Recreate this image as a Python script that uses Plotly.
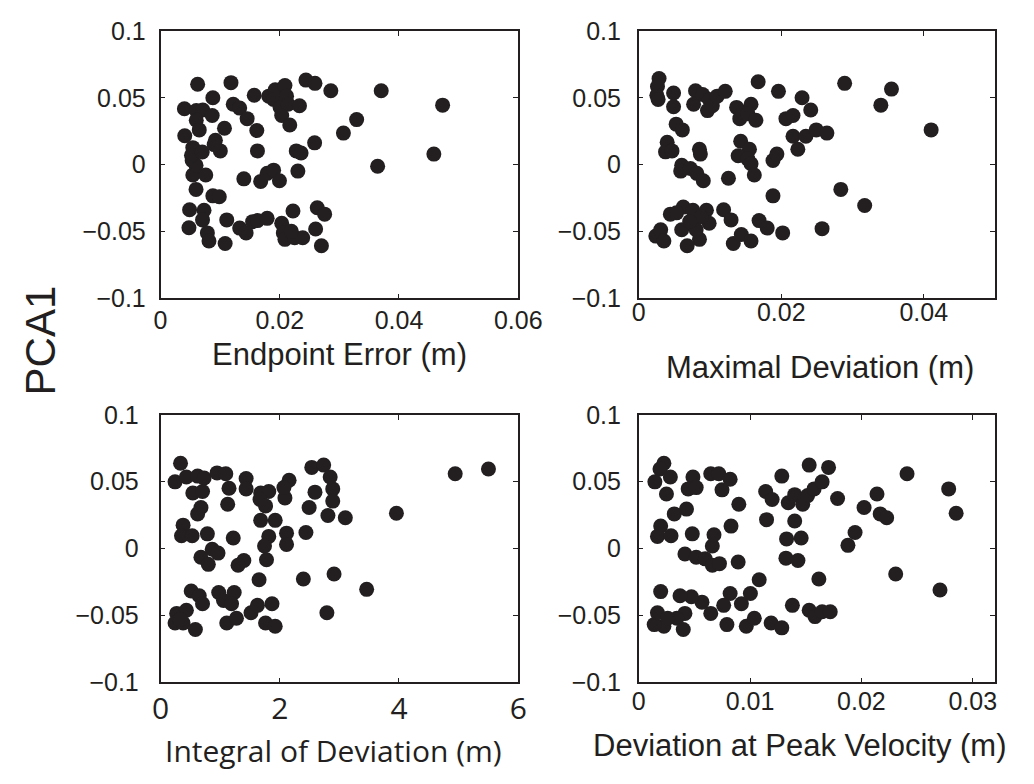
import plotly.graph_objects as go

W, H = 1034, 784

# ---------------- data ----------------
endpoint_x = [0.00623, 0.01182, 0.00878, 0.01572, 0.00401, 0.0060, 0.0071, 0.00867, 0.0060, 0.0065,
              0.00407, 0.01073, 0.0122, 0.01328, 0.01453, 0.01615, 0.00921, 0.01003, 0.00542, 0.00531,
              0.00542, 0.00759, 0.00596, 0.00878, 0.00986, 0.00488, 0.0073, 0.00705, 0.00477, 0.00786,
              0.00813, 0.01084, 0.01111, 0.01328, 0.01436, 0.01545, 0.01626, 0.01789, 0.02033, 0.0206,
              0.02087, 0.02222, 0.0225, 0.02385, 0.02195, 0.02629, 0.02753, 0.02602, 0.02699, 0.01626,
              0.01398, 0.0168, 0.01789, 0.01897, 0.01995, 0.02304, 0.02277, 0.02358, 0.02585, 0.01816,
              0.01924, 0.02087, 0.01897, 0.02114, 0.02006, 0.0214, 0.02331, 0.02033, 0.02168, 0.02439,
              0.02591, 0.02857, 0.03068, 0.0329, 0.03702, 0.03642, 0.04732, 0.04585, 0.00596, 0.0052,
              0.0070, 0.0090]
endpoint_y = [0.0601, 0.0613, 0.0500, 0.0519, 0.0418, 0.0404, 0.0409, 0.0368, 0.0332, 0.0260,
              0.0216, 0.0272, 0.0452, 0.0423, 0.0344, 0.0255, 0.0183, 0.0103, 0.0127, 0.0031,
              -0.0077, -0.0077, -0.0185, -0.0233, -0.0240, -0.0337, -0.0341, -0.0413, -0.0471, -0.0510,
              -0.0570, -0.0589, -0.0413, -0.0474, -0.0510, -0.0426, -0.0418, -0.0401, -0.0438, -0.0510,
              -0.0558, -0.0346, -0.0546, -0.0546, -0.0498, -0.0322, -0.0370, -0.0481, -0.0606, 0.0103,
              -0.0106, -0.0125, -0.0065, -0.0041, -0.0120, -0.0048, 0.0103, 0.0087, 0.0163, 0.0512,
              0.0560, 0.0591, 0.0488, 0.0512, 0.0428, 0.0452, 0.0440, 0.0368, 0.0296, 0.0632,
              0.0608, 0.0553, 0.0236, 0.0337, 0.0553, -0.0012, 0.0445, 0.0079, -0.0005, 0.0070,
              0.0095, 0.0150]

maxdev_x = [0.00285, 0.00263, 0.00254, 0.00272, 0.00489, 0.00489, 0.00525, 0.00612, 0.00399, 0.00376,
            0.00467, 0.00603, 0.00589, 0.00725, 0.00815, 0.00906, 0.00852, 0.00865, 0.00797, 0.0077,
            0.00897, 0.00988, 0.00965, 0.01033, 0.01101, 0.01214, 0.01259, 0.01373, 0.01418, 0.01463,
            0.01576, 0.01531, 0.01644, 0.01431, 0.01554, 0.01395, 0.01531, 0.01576, 0.01622, 0.01676,
            0.01961, 0.01884, 0.01939, 0.01884, 0.02066, 0.02165, 0.02292, 0.02414, 0.02165, 0.02233,
            0.02346, 0.02491, 0.02641, 0.0289, 0.02836, 0.03171, 0.03398, 0.03547, 0.04104, 0.02573,
            0.0024, 0.00308, 0.00353, 0.00603, 0.00444, 0.00625, 0.0076, 0.0095, 0.00988, 0.00852,
            0.0068, 0.00806, 0.01191, 0.01296, 0.01327, 0.0144, 0.01576, 0.01689, 0.01803, 0.0202,
            0.00874, 0.00715, 0.0053]
maxdev_y = [0.0644, 0.0584, 0.0519, 0.0488, 0.0536, 0.0433, 0.0303, 0.0260, 0.0168, 0.0096,
            0.0103, -0.0005, -0.0048, -0.0029, -0.0065, -0.0120, 0.0115, 0.0079, 0.0553, 0.0452,
            0.0524, 0.0488, 0.0404, 0.0440, 0.0512, 0.0548, -0.0101, 0.0428, 0.0344, 0.0392,
            0.0452, 0.0380, 0.0332, 0.0175, 0.0115, 0.0067, 0.0043, 0.0007, -0.0077, 0.0620,
            0.0548, 0.0031, 0.0079, -0.0233, 0.0344, 0.0368, 0.0500, 0.0409, 0.0212, 0.0115,
            0.0212, 0.0260, 0.0236, 0.0608, -0.0185, -0.0305, 0.0445, 0.0565, 0.0260, -0.0478,
            -0.0534, -0.0486, -0.0570, -0.0486, -0.0370, -0.0317, -0.0341, -0.0341, -0.0438, -0.0558,
            -0.0606, -0.0486, -0.0337, -0.0413, -0.0589, -0.0522, -0.0570, -0.0418, -0.0474, -0.0510,
            -0.0389, -0.0425, -0.0360]

integral_x = [0.336, 0.244, 0.434, 0.623, 0.732, 0.542, 0.705, 0.678, 0.623, 0.949,
              1.095, 1.149, 1.127, 1.436, 1.436, 1.680, 1.816, 1.669, 1.762, 2.087,
              2.157, 2.070, 2.537, 2.737, 2.846, 2.889, 2.889, 2.808, 2.591, 2.493,
              3.100, 3.957, 4.943, 5.501, 0.379, 0.352, 0.531, 0.786, 0.867, 0.965,
              0.678, 0.802, 1.220, 1.398, 1.301, 1.680, 1.924, 1.816, 1.745, 1.778,
              2.114, 2.114, 2.439, 1.653, 2.396, 2.911, 3.458, 2.791, 0.515, 0.650,
              0.705, 0.271, 0.244, 0.379, 0.585, 0.976, 1.057, 1.236, 1.192, 1.111,
              1.274, 1.518, 1.626, 1.870, 1.762, 1.924, 0.434, 0.330]
integral_y = [0.0638, 0.0499, 0.0535, 0.0542, 0.0528, 0.0415, 0.0427, 0.0307, 0.0259, 0.0566,
              0.0559, 0.0451, 0.0331, 0.0523, 0.0446, 0.0415, 0.0427, 0.0367, 0.0319, 0.0379,
              0.0511, 0.0456, 0.0607, 0.0624, 0.0535, 0.0446, 0.0355, 0.0247, 0.0422, 0.0307,
              0.0230, 0.0264, 0.0559, 0.0595, 0.0175, 0.0096, 0.0096, 0.0110, -0.0005, -0.0034,
              -0.0065, -0.0118, 0.0079, -0.0089, -0.0125, 0.0211, 0.0211, 0.0091, 0.0019, -0.0084,
              0.0115, 0.0031, 0.0120, -0.0233, -0.0228, -0.0190, -0.0305, -0.0480, -0.0317, -0.0353,
              -0.0413, -0.0485, -0.0557, -0.0557, -0.0605, -0.0329, -0.0389, -0.0329, -0.0413, -0.0557,
              -0.0521, -0.0480, -0.0425, -0.0413, -0.0557, -0.0581, -0.0461, -0.0530]

peakvel_x = [0.00226, 0.00191, 0.00145, 0.00284, 0.00249, 0.00487, 0.00444, 0.00516, 0.00429, 0.00319,
             0.00647, 0.00719, 0.00821, 0.00748, 0.00899, 0.00829, 0.00197, 0.00168, 0.0029, 0.00481,
             0.00415, 0.00516, 0.00597, 0.00661, 0.00676, 0.00661, 0.00725, 0.00893, 0.0114, 0.01198,
             0.01148, 0.01285, 0.01343, 0.01401, 0.01473, 0.01517, 0.01575, 0.01647, 0.01531, 0.01705,
             0.01786, 0.01401, 0.01328, 0.01459, 0.01322, 0.0143, 0.01082, 0.01618, 0.0138, 0.01531,
             0.01583, 0.01647, 0.0172, 0.01189, 0.01285, 0.00966, 0.01038, 0.00922, 0.01003, 0.00821,
             0.00763, 0.00792, 0.00647, 0.00568, 0.00473, 0.00371, 0.00415, 0.00342, 0.004, 0.00226,
             0.00139, 0.00168, 0.00197, 0.01943, 0.01879, 0.02024, 0.0214, 0.02169, 0.02227, 0.0241,
             0.02308, 0.02784, 0.02851, 0.02706, 0.0026]
peakvel_y = [0.0638, 0.0595, 0.0499, 0.0535, 0.0408, 0.0535, 0.0446, 0.0456, 0.0295, 0.0259,
             0.0559, 0.0559, 0.0518, 0.0439, 0.0331, 0.0168, 0.0168, 0.0091, 0.0096, 0.0110,
             -0.0041, -0.0065, -0.0077, 0.0019, 0.0103, -0.0125, -0.0113, -0.0101, 0.0427, 0.0367,
             0.0216, 0.0542, 0.0343, 0.0403, 0.0331, 0.0396, 0.0446, 0.0499, 0.0624, 0.0607,
             0.0374, 0.0206, 0.0072, 0.0079, -0.0072, -0.0089, -0.0233, -0.0228, -0.0425, -0.0461,
             -0.0509, -0.0473, -0.0473, -0.0557, -0.0593, -0.0581, -0.0521, -0.0413, -0.0336, -0.0336,
             -0.0425, -0.0569, -0.0485, -0.0401, -0.0360, -0.0353, -0.0485, -0.0521, -0.0605, -0.0581,
             -0.0569, -0.0480, -0.0322, 0.0120, 0.0024, 0.0307, 0.0408, 0.0259, 0.0230, 0.0559,
             -0.0190, 0.0446, 0.0264, -0.0310, -0.0521]

y_ticks = [-0.1, -0.05, 0, 0.05, 0.1]
y_ticktext = ["\u22120.1", "\u22120.05", "0", "0.05", "0.1"]

panels = [
    dict(x=endpoint_x, y=endpoint_y, xr=[0, 0.06], xt=[0, 0.02, 0.04, 0.06], xtt=["0", "0.02", "0.04", "0.06"],
         title="Endpoint Error (m)"),
    dict(x=maxdev_x, y=maxdev_y, xr=[0, 0.05], xt=[0, 0.02, 0.04], xtt=["0", "0.02", "0.04"],
         title="Maximal Deviation (m)"),
    dict(x=integral_x, y=integral_y, xr=[0, 6], xt=[0, 2, 4, 6], xtt=["0", "2", "4", "6"],
         title="Integral of Deviation (m)"),
    dict(x=peakvel_x, y=peakvel_y, xr=[0, 0.032], xt=[0, 0.01, 0.02, 0.03], xtt=["0", "0.01", "0.02", "0.03"],
         title="Deviation at Peak Velocity (m)"),
]

# ---------------- layout geometry (pixels) ----------------
col_px = [(156.5, 526.0), (650.5, 1018.5)]
row_px = [(17.5, 295.0), (415.7, 693.0)]

INK = "#231f20"
FONT = "Liberation Sans, Arial, Helvetica, sans-serif"
ALT = "Open Sans, sans-serif"

fig = go.Figure()
layout = dict(
    width=W, height=H, margin=dict(l=0, r=0, t=0, b=0),
    paper_bgcolor="white", plot_bgcolor="white", showlegend=False,
    font=dict(family=FONT, color=INK, size=25),
)

xstand = [-1, -9, -1, -4]
ystand = [8, 11, 15, 11]
for i, p in enumerate(panels):
    r, c = divmod(i, 2)
    n = "" if i == 0 else str(i + 1)
    xa, ya = "x" + n, "y" + n
    fig.add_trace(go.Scatter(
        x=p["x"], y=p["y"], mode="markers", xaxis=xa, yaxis=ya,
        marker=dict(size=15, color=INK, line=dict(width=0)),
        hoverinfo="skip"))
    x0, x1 = col_px[c]
    yt, yb = row_px[r]
    tickfont = dict(family=FONT, size=25, color=INK)
    xtickfont = dict(family=ALT, size=30, color=INK) if i == 2 else tickfont
    layout["xaxis" + n] = dict(
        domain=[x0 / W, x1 / W], anchor=ya, range=p["xr"], tickvals=p["xt"], ticktext=p["xtt"],
        showline=True, linecolor=INK, linewidth=1.5, mirror="ticks", ticks="inside", ticklen=5,
        tickcolor=INK, tickwidth=1, showgrid=False, zeroline=False, tickfont=xtickfont,
        ticklabelstandoff=xstand[i], fixedrange=True)
    layout["yaxis" + n] = dict(
        domain=[1 - yb / H, 1 - yt / H], anchor=xa, range=[-0.1, 0.1], tickvals=y_ticks, ticktext=y_ticktext,
        showline=True, linecolor=INK, linewidth=1.5, mirror="ticks", ticks="inside", ticklen=5,
        tickcolor=INK, tickwidth=1, showgrid=False, zeroline=False, tickfont=tickfont,
        ticklabelstandoff=ystand[i], fixedrange=True)

annotations = [
    dict(text="PCA1", x=32.5 / W, y=1 - 338 / H, textangle=-90, font=dict(family=FONT, size=42, color=INK)),
    dict(text=panels[0]["title"], x=341.5 / W, y=1 - 353 / H, font=dict(family=FONT, size=31, color=INK)),
    dict(text=panels[1]["title"], x=837.5 / W, y=1 - 367 / H, font=dict(family=FONT, size=31, color=INK)),
    dict(text=panels[2]["title"], x=335.5 / W, y=1 - 764 / H, font=dict(family=ALT, size=30, color=INK)),
    dict(text=panels[3]["title"], x=816.8 / W, y=1 - 759 / H, font=dict(family=FONT, size=31, color=INK)),
]
for a in annotations:
    a.update(xref="paper", yref="paper", showarrow=False, xanchor="center", yanchor="middle")
layout["annotations"] = annotations

fig.update_layout(**layout)
fig.write_html("out.html")
